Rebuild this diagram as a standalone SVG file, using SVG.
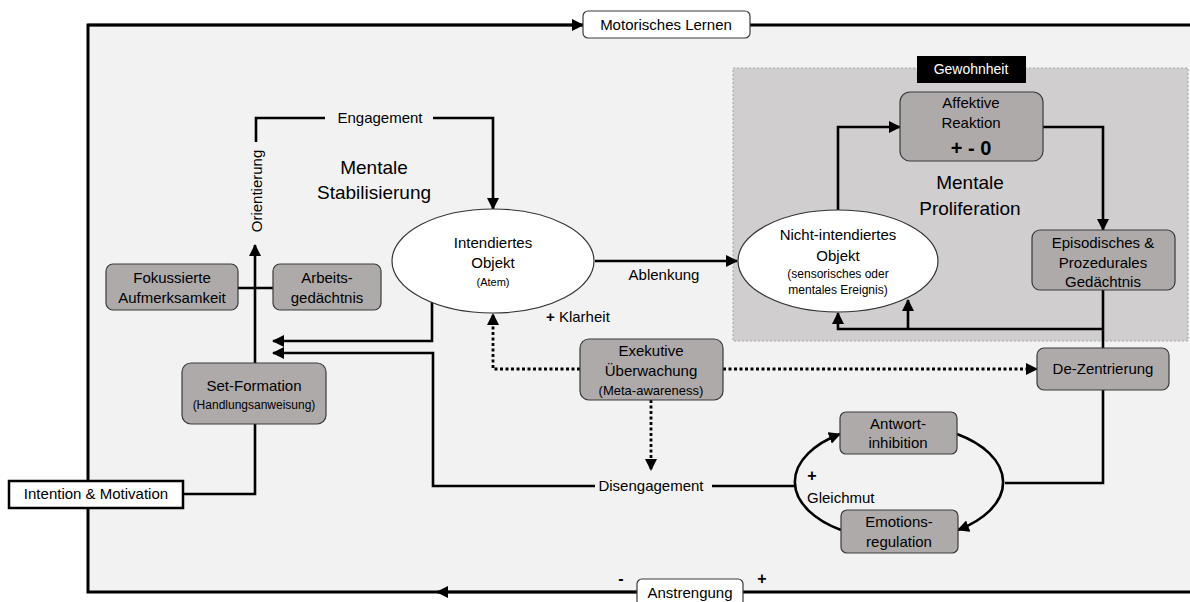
<svg xmlns="http://www.w3.org/2000/svg" width="1190" height="602" viewBox="0 0 1190 602">
<style>
text{font-family:"Liberation Sans",Arial,sans-serif;font-size:15px;fill:#000;text-anchor:middle}
.sm{font-size:12px}
.xs{font-size:11px}
.big{font-size:19px}
.box{fill:#aeaaaa;stroke:#3a3a3a;stroke-width:1.2}
.wbox{fill:#fff;stroke:#3a3a3a;stroke-width:1.2}
.ell{fill:#fff;stroke:#333;stroke-width:1.2}
.c{fill:none;stroke:#000;stroke-width:2.6}
.d{fill:none;stroke:#000;stroke-width:2.8;stroke-dasharray:3 2.5}
</style>
<defs>
<marker id="a" viewBox="0 0 12 12" refX="11" refY="6" markerWidth="12" markerHeight="12" markerUnits="userSpaceOnUse" orient="auto">
<path d="M0,0 L12,6 L0,12 Z" fill="#000"/>
</marker>
</defs>
<rect width="1190" height="602" fill="#fff"/>
<rect id="frame" x="88" y="25" width="1120" height="567" fill="#f2f2f2" stroke="#000" stroke-width="3"/>
<g id="gewohnheit-region">
<rect x="733" y="68" width="455" height="273" fill="#d0cece" stroke="#a6a6a6" stroke-width="1" stroke-dasharray="2 2"/>
<rect x="917" y="56" width="109" height="27" fill="#000"/>
<text x="971" y="74" style="fill:#fff;font-size:14px">Gewohnheit</text>
</g>
<text x="374" y="174" class="big">Mentale</text>
<text x="374" y="199" class="big">Stabilisierung</text>
<text x="970" y="189" class="big">Mentale</text>
<text x="970" y="215" class="big">Proliferation</text>
<g id="connectors">
<path class="c" d="M88,25 L583,25" marker-end="url(#a)"/>
<path class="c" d="M637,592 L437,592" marker-end="url(#a)"/>
<path class="c" d="M183,494 L255,494 L255,424"/>
<path class="c" d="M255,363 L255,245" marker-end="url(#a)"/>
<path class="c" d="M256,142 L256,118 L325,118"/>
<path class="c" d="M433,118 L493,118 L493,209" marker-end="url(#a)"/>
<path class="c" d="M238,288 L273,288"/>
<path class="c" d="M432,302 L432,341 L273,341" marker-end="url(#a)"/>
<path class="c" d="M595,486 L433,486 L433,353 L273,353" marker-end="url(#a)"/>
<path class="c" d="M712,486 L796,486"/>
<path class="c" d="M595,261 L737,261" marker-end="url(#a)"/>
<path class="c" d="M838,211 L838,127 L900,127" marker-end="url(#a)"/>
<path class="c" d="M1043,127 L1103,127 L1103,230" marker-end="url(#a)"/>
<path class="c" d="M1103,290 L1103,348"/>
<path class="c" d="M1103,329 L838,329 L838,313" marker-end="url(#a)"/>
<path class="c" d="M908,329 L908,300" marker-end="url(#a)"/>
<path class="c" d="M1103,390 L1103,483 L1005,483"/>
<path class="c" d="M841,530 A104,58 0 0 1 840,434" marker-end="url(#a)"/>
<path class="c" d="M957,434 A104,58 0 0 1 958,530" marker-end="url(#a)"/>
<path class="d" d="M580,369 L493,369 L493,314" marker-end="url(#a)"/>
<path class="d" d="M723,369 L1037,369" marker-end="url(#a)"/>
<path class="d" d="M651,400 L651,470" marker-end="url(#a)"/>
</g>
<g id="motorisches-lernen">
<rect class="wbox" x="583" y="11" width="167" height="27" rx="5"/>
<text x="666" y="30">Motorisches Lernen</text>
</g>
<g id="anstrengung">
<rect class="wbox" x="637" y="579" width="106" height="30" rx="5"/>
<text x="690" y="598">Anstrengung</text>
<text x="621" y="584" style="font-weight:bold;font-size:16px">-</text>
<text x="762" y="584" style="font-weight:bold;font-size:16px">+</text>
</g>
<g id="intention-motivation">
<rect x="9" y="481" width="174" height="27" fill="#fff" stroke="#000" stroke-width="2.5"/>
<text x="96" y="499">Intention &amp; Motivation</text>
</g>
<g id="orientierung">
<text transform="translate(262,191) rotate(-90)">Orientierung</text>
</g>
<g id="engagement">
<text x="380" y="123">Engagement</text>
</g>
<g id="fokussierte-aufmerksamkeit">
<rect class="box" x="106" y="264" width="132" height="46" rx="7"/>
<text x="172" y="283">Fokussierte</text>
<text x="172" y="303">Aufmerksamkeit</text>
</g>
<g id="arbeitsgedaechtnis">
<rect class="box" x="273" y="264" width="108" height="46" rx="7"/>
<text x="327" y="283">Arbeits-</text>
<text x="327" y="303">gedächtnis</text>
</g>
<g id="set-formation">
<rect class="box" x="182" y="363" width="144" height="61" rx="9"/>
<text x="254" y="391">Set-Formation</text>
<text x="254" y="409" class="sm">(Handlungsanweisung)</text>
</g>
<g id="intendiertes-objekt">
<ellipse class="ell" cx="493" cy="261" rx="101" ry="52"/>
<text x="493" y="248">Intendiertes</text>
<text x="493" y="268">Objekt</text>
<text x="493" y="286" class="xs">(Atem)</text>
</g>
<g id="ablenkung"><text x="664" y="280">Ablenkung</text></g>
<g id="klarheit"><text x="546" y="322" style="text-anchor:start"><tspan style="font-weight:bold">+</tspan> Klarheit</text></g>
<g id="exekutive-ueberwachung">
<rect class="box" x="580" y="339" width="143" height="61" rx="9"/>
<text x="651" y="356">Exekutive</text>
<text x="651" y="376">Überwachung</text>
<text x="651" y="395" style="font-size:13px">(Meta-awareness)</text>
</g>
<g id="disengagement"><text x="651" y="491">Disengagement</text></g>
<g id="nicht-intendiertes-objekt">
<ellipse class="ell" cx="838" cy="261" rx="100" ry="51"/>
<text x="838" y="240">Nicht-intendiertes</text>
<text x="838" y="261">Objekt</text>
<text x="838" y="278" class="sm">(sensorisches oder</text>
<text x="838" y="294" class="sm">mentales Ereignis)</text>
</g>
<g id="affektive-reaktion">
<rect class="box" x="900" y="92" width="143" height="69" rx="10"/>
<text x="971" y="108">Affektive</text>
<text x="971" y="128">Reaktion</text>
<text x="971" y="155" style="font-weight:bold;font-size:20px">+ - 0</text>
</g>
<g id="episodisches-gedaechtnis">
<rect class="box" x="1032" y="230" width="143" height="60" rx="8"/>
<text x="1103" y="248">Episodisches &amp;</text>
<text x="1103" y="268">Prozedurales</text>
<text x="1103" y="287">Gedächtnis</text>
</g>
<g id="de-zentrierung">
<rect class="box" x="1037" y="348" width="132" height="42" rx="7"/>
<text x="1103" y="374">De-Zentrierung</text>
</g>
<g id="antwortinhibition">
<rect class="box" x="840" y="412" width="117" height="42" rx="6"/>
<text x="898" y="429">Antwort-</text>
<text x="898" y="448">inhibition</text>
</g>
<g id="emotionsregulation">
<rect class="box" x="841" y="510" width="117" height="43" rx="6"/>
<text x="899" y="527">Emotions-</text>
<text x="899" y="547">regulation</text>
</g>
<g id="gleichmut">
<text x="812" y="481" style="font-weight:bold;font-size:16px">+</text>
<text x="807" y="503" style="text-anchor:start">Gleichmut</text>
</g>
</svg>
